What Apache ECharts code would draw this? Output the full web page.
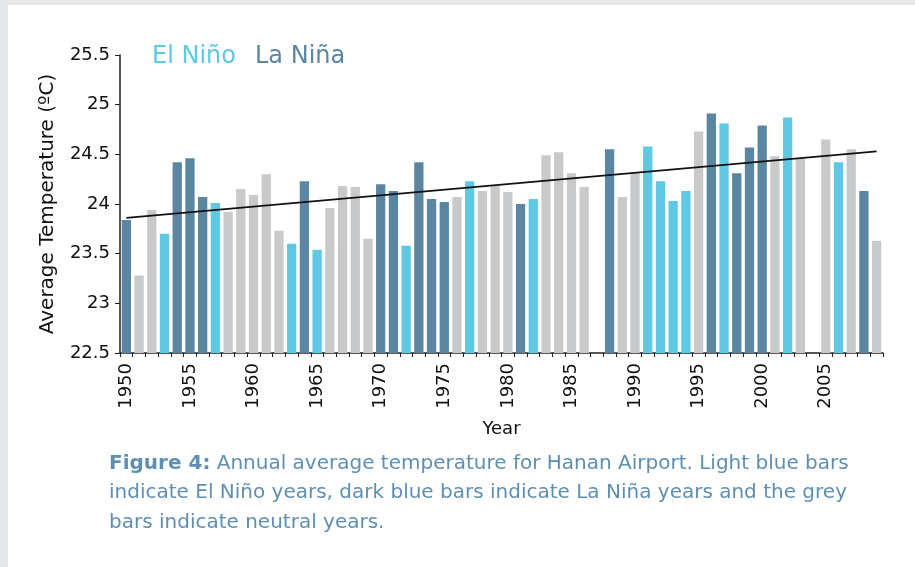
<!DOCTYPE html>
<html>
<head>
<meta charset="utf-8">
<script src="https://cdn.jsdelivr.net/npm/echarts@6/dist/echarts.min.js"></script>
<style>
  html, body { margin: 0; padding: 0; background: #fff; }
  #chart { width: 915px; height: 567px; }
</style>
</head>
<body>
<div id="chart"></div>
<script>
  // years 1950 - 2009
  const years = []
  for (let y = 1950; y <= 2009; y++) years.push(String(y))

  // annual average temperature, null = no data
  const temps = [
    23.84, 23.28, 23.94, 23.70, 24.42, 24.46, 24.07, 24.01, 23.92, 24.15,
    24.09, 24.30, 23.73, 23.60, 24.23, 23.54, 23.96, 24.18, 24.17, 23.65,
    24.20, 24.13, 23.58, 24.42, 24.05, 24.02, 24.07, 24.23, 24.13, 24.18,
    24.12, 24.00, 24.05, 24.49, 24.52, 24.31, 24.17, null, 24.55, 24.07,
    24.31, 24.58, 24.23, 24.03, 24.13, 24.73, 24.91, 24.81, 24.31, 24.57,
    24.79, 24.48, 24.87, 24.46, null, 24.65, 24.42, 24.55, 24.13, 23.63
  ]

  // E = El Niño, L = La Niña, N = neutral
  const phase = [
    'L','N','N','E','L','L','L','E','N','N',
    'N','N','N','E','L','E','N','N','N','N',
    'L','L','E','L','L','L','N','E','N','N',
    'N','L','E','N','N','N','N','N','L','N',
    'N','E','E','E','E','N','L','E','L','L',
    'L','N','E','N','N','N','E','N','L','N'
  ]

  // trend line end points (1950, 2009)
  const trend = [23.86, 24.53]

  const yTicks = { min: 22.5, max: 25.5, step: 0.5 }

  const colors = { E: '#5fc8e2', L: '#5b86a1', N: '#c8c9cb' }
  const font = 'DejaVu Sans'

  const chart = echarts.init(document.getElementById('chart'))

  const options = {
    animation: false,
    textStyle: { fontFamily: font },
    grid: { left: 120, right: 32, top: 55, bottom: 214 },
    graphic: [
      { type: 'rect', left: 0, top: 0, shape: { width: 915, height: 5 }, style: { fill: '#e6e7e9' } },
      { type: 'rect', left: 0, top: 0, shape: { width: 8, height: 567 }, style: { fill: '#e6e7e9' } },
      { type: 'text', left: 152, top: 45, style: { text: 'El Niño', fill: '#5fc8e2', fontFamily: font, fontSize: 24 } },
      { type: 'text', left: 255, top: 45, style: { text: 'La Niña', fill: '#5b86a1', fontFamily: font, fontSize: 24 } },
      {
        type: 'text', left: 109, top: 449,
        style: {
          text: '{b|Figure 4:} Annual average temperature for Hanan Airport. Light blue bars\nindicate El Niño years, dark blue bars indicate La Niña years and the grey\nbars indicate neutral years.',
          fill: '#5e8fb2',
          fontFamily: font,
          fontSize: 20,
          lineHeight: 29.5,
          rich: {
            b: { fontWeight: 'bold', fill: '#5e8fb2', fontFamily: font, fontSize: 20, lineHeight: 29.5 }
          }
        }
      }
    ],
    xAxis: {
      type: 'category',
      data: years,
      name: 'Year',
      nameLocation: 'middle',
      nameGap: 67,
      nameTextStyle: { color: '#111', fontSize: 18 },
      axisLine: { lineStyle: { color: '#222', width: 1.5 } },
      axisTick: { show: true, interval: 0, length: 4, lineStyle: { color: '#222' } },
      axisLabel: { interval: 4, rotate: 90, color: '#111', fontSize: 18, margin: 10 }
    },
    yAxis: {
      type: 'value',
      min: yTicks.min,
      max: yTicks.max,
      interval: yTicks.step,
      name: 'Average Temperature (ºC)',
      nameLocation: 'middle',
      nameGap: 62,
      nameTextStyle: { color: '#111', fontSize: 20 },
      splitLine: { show: false },
      axisLine: { show: true, lineStyle: { color: '#222', width: 1.5 } },
      axisTick: { show: true, length: 5, lineStyle: { color: '#222' } },
      axisLabel: { color: '#111', fontSize: 18, margin: 10 }
    },
    series: [
      {
        type: 'bar',
        barCategoryGap: '27%',
        data: temps.map((v, i) => ({
          value: v,
          itemStyle: { color: colors[phase[i]] }
        })),
        markLine: {
          silent: true,
          symbol: 'none',
          label: { show: false },
          lineStyle: { color: '#111', width: 1.6, type: 'solid' },
          data: [[
            { coord: [years[0], trend[0]] },
            { coord: [years[years.length - 1], trend[1]] }
          ]]
        }
      }
    ]
  }
  chart.setOption(options)
</script>
</body>
</html>
